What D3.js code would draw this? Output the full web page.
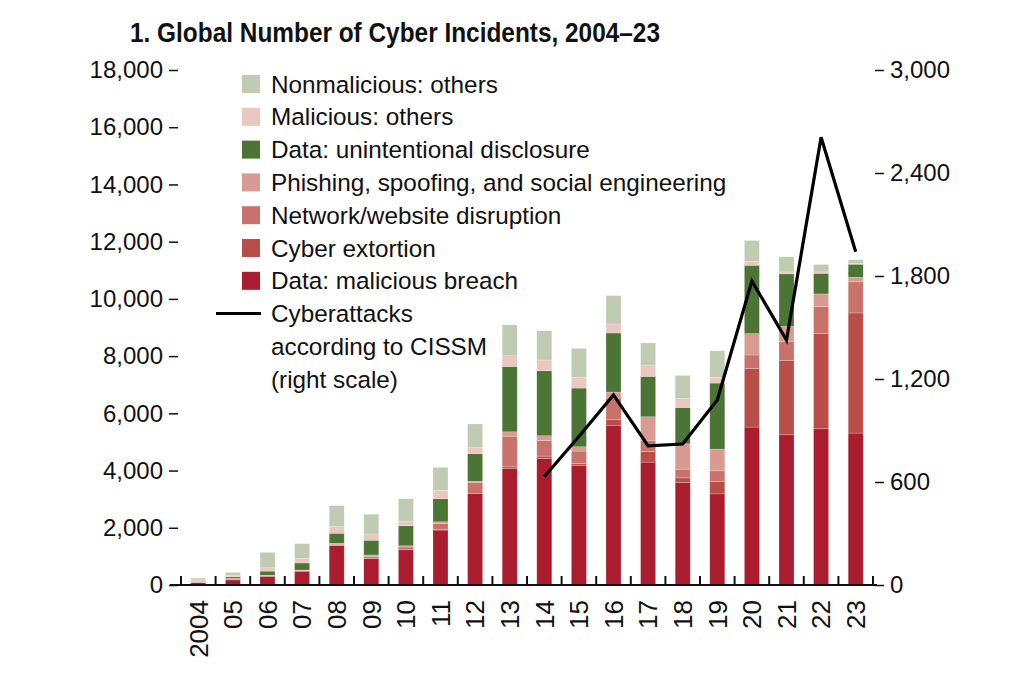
<!DOCTYPE html>
<html><head><meta charset="utf-8">
<script src="https://cdn.jsdelivr.net/npm/d3@7"></script>
<style>
html,body{margin:0;padding:0;background:#fff;}
svg{display:block;}
text{font-family:"Liberation Sans",Arial,sans-serif;fill:#111;}
</style></head>
<body>
<svg id="chart" width="1024" height="694"></svg>
<script>
const years = ["2004","05","06","07","08","09","10","11","12","13","14","15","16","17","18","19","20","21","22","23"];
const breach     = [80,180,300,480,1375,920,1230,1920,3190,4080,4415,4170,5565,4295,3580,3185,5520,5250,5460,5310];
const extortion  = [0,0,0,0,0,20,0,30,0,50,90,80,210,371,164,431,2051,2600,3336,4200];
const network    = [20,30,30,30,50,60,100,200,400,1070,548,431,758,374,304,374,469,665,934,1085];
const phishing   = [20,20,15,15,34,50,40,60,35,154,163,150,210,840,886,758,745,525,444,161];
const disclosure = [10,55,140,245,350,514,699,804,968,2283,2272,2052,2065,1411,1271,2310,2390,1834,721,455];
const malOthers  = [50,60,117,163,233,221,154,294,210,374,374,374,315,399,315,196,140,70,49,25];
const nonMal     = [60,95,537,512,734,689,790,804,825,1083,1025,1014,991,770,805,933,724,525,256,130];
const lineYears  = ["14","15","16","17","18","19","20","21","22","23"];
const cyberattacks = [631,865,1107,811,821,1078,1771,1427,2608,1941];
const leftTicks  = [0,2000,4000,6000,8000,10000,12000,14000,16000,18000];
const rightTicks = [0,600,1200,1800,2400,3000];

const seriesKeys   = ["breach","extortion","network","phishing","disclosure","malOthers","nonMal"];
const seriesNames  = ["Data: malicious breach","Cyber extortion","Network/website disruption","Phishing, spoofing, and social engineering","Data: unintentional disclosure","Malicious: others","Nonmalicious: others"];
const seriesColors = ["#A91D2F","#B94E48","#C8726B","#D99B91","#4A7535","#EAC7BF","#C0CBB2"];
const seriesVals   = [breach,extortion,network,phishing,disclosure,malOthers,nonMal];

const rows = years.map((y,i)=>{const r={year:y}; seriesKeys.forEach((k,j)=>r[k]=seriesVals[j][i]); return r;});

const svg = d3.select("#chart");
const x = d3.scaleBand().domain(years).range([181,873]).paddingInner(0.566).paddingOuter(0.283);
const yL = d3.scaleLinear().domain([0,18000]).range([585,70]);
const yR = d3.scaleLinear().domain([0,3000]).range([585,70]);

// title
svg.append("text").attr("x",130).attr("y",42)
  .attr("font-family","'Liberation Sans Narrow','Arial Narrow',sans-serif")
  .attr("font-weight","bold").attr("font-size",27)
  .attr("textLength",530).attr("lengthAdjust","spacingAndGlyphs")
  .text("1. Global Number of Cyber Incidents, 2004–23");

// bars
const stacked = d3.stack().keys(seriesKeys)(rows);
svg.append("g").selectAll("g").data(stacked).join("g")
  .attr("fill",(d,i)=>seriesColors[i])
  .selectAll("rect").data(d=>d).join("rect")
  .attr("x",d=>x(d.data.year)).attr("width",x.bandwidth())
  .attr("y",d=>yL(d[1])).attr("height",d=>Math.max(0,yL(d[0])-yL(d[1])))
  .attr("stroke","#fff").attr("stroke-opacity",0.35).attr("stroke-width",0.6);

// baseline
svg.append("line").attr("x1",170).attr("x2",877).attr("y1",585).attr("y2",585)
  .attr("stroke","#111").attr("stroke-width",2);
// x ticks at band boundaries
const bounds = years.map(y=>x(y)-(x.step()-x.bandwidth())/2).concat([x(years[years.length-1])+x.bandwidth()+(x.step()-x.bandwidth())/2]);
svg.append("g").selectAll("line").data(bounds).join("line")
  .attr("x1",d=>d).attr("x2",d=>d).attr("y1",585).attr("y2",576)
  .attr("stroke","#111").attr("stroke-width",2);
// x labels
svg.append("g").selectAll("text").data(years).join("text")
  .attr("transform",d=>`translate(${x(d)+x.bandwidth()/2},600) rotate(-90)`)
  .attr("text-anchor","end").attr("dy","0.36em").attr("font-size",26)
  .text(d=>d);

// left axis
const fmt = d3.format(",");
const gl = svg.append("g").attr("transform","translate(178,0)")
  .call(d3.axisLeft(yL).tickValues(leftTicks).tickSize(9).tickPadding(6).tickFormat(fmt));
gl.select(".domain").remove();
gl.selectAll(".tick line").attr("stroke","#111").attr("stroke-width",1.5);
gl.selectAll(".tick text").attr("font-size",24).attr("fill","#111").attr("font-family","'Liberation Sans',Arial,sans-serif");

// right axis
const gr = svg.append("g").attr("transform","translate(875,0)")
  .call(d3.axisRight(yR).tickValues(rightTicks).tickSize(9).tickPadding(6).tickFormat(fmt));
gr.select(".domain").remove();
gr.selectAll(".tick line").attr("stroke","#111").attr("stroke-width",1.5);
gr.selectAll(".tick text").attr("font-size",24).attr("fill","#111").attr("font-family","'Liberation Sans',Arial,sans-serif");

// line
const line = d3.line().x((d,i)=>x(lineYears[i])+x.bandwidth()/2).y(d=>yR(d));
svg.append("path").datum(cyberattacks).attr("d",line)
  .attr("fill","none").attr("stroke","#000").attr("stroke-width",3.2).attr("stroke-linejoin","miter");

// legend
const legendOrder = [6,5,4,3,2,1,0];
const lg = svg.append("g");
legendOrder.forEach((si,k)=>{
  const cy = 84 + k*32.8;
  lg.append("rect").attr("x",242).attr("y",cy-9).attr("width",18).attr("height",18).attr("fill",seriesColors[si]);
  lg.append("text").attr("x",271).attr("y",cy).attr("dy","0.35em").attr("font-size",24.3).text(seriesNames[si]);
});
const ly = 84 + 7*32.8;
lg.append("line").attr("x1",216).attr("x2",261).attr("y1",ly).attr("y2",ly).attr("stroke","#000").attr("stroke-width",3);
["Cyberattacks","according to CISSM","(right scale)"].forEach((t,k)=>{
  lg.append("text").attr("x",271).attr("y",ly+k*32.8).attr("dy","0.35em").attr("font-size",24.3).text(t);
});
</script>
</body></html>
